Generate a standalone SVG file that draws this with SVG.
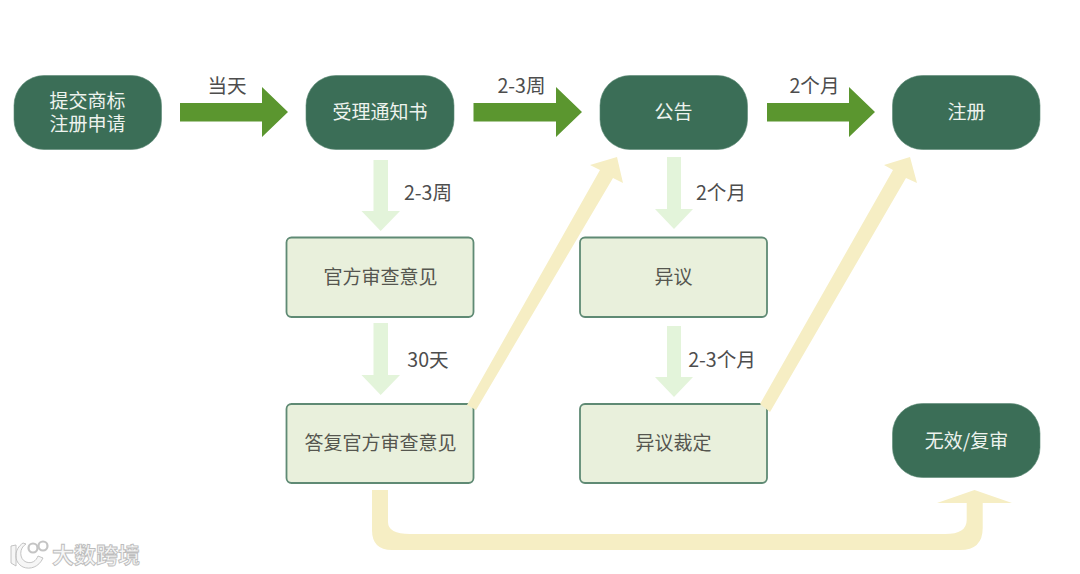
<svg xmlns="http://www.w3.org/2000/svg" width="1080" height="574" viewBox="0 0 1080 574">
<style>
text{font-family:"Noto Sans CJK SC","Liberation Sans",sans-serif;font-size:19px;text-anchor:middle;font-weight:400}
.pill rect{fill:#3b6e57;stroke:#5d8a75;stroke-width:.6}
.pill text{fill:#eef3ee}
.box rect{fill:#e9f0dc;stroke:#5f8a74;stroke-width:1.8}
.box text{fill:#55564f}
text.lbl{fill:#4d4d4d;font-size:19.600px}
.g{fill:#5b962f}.l{fill:#e3f4da}.y{fill:#f6eec4}
text.wm{fill:#f6f6f6;stroke:#bdbdbd;stroke-width:.9;font-size:22px;font-weight:700;text-anchor:start}
</style>
<rect width="1080" height="574" fill="#fff"/>
<g id="n1" class="pill"><rect x="14" y="75.500" width="147.500" height="74" rx="30" ry="30"/><text><tspan x="87.500" y="107.500">提交商标</tspan><tspan x="87.500" y="131">注册申请</tspan></text></g>
<g id="n2" class="pill"><rect x="306" y="75.500" width="148" height="74" rx="30" ry="30"/><text x="380" y="119">受理通知书</text></g>
<g id="n3" class="pill"><rect x="600" y="75.500" width="147.500" height="74" rx="30" ry="30"/><text x="673.500" y="119">公告</text></g>
<g id="n4" class="pill"><rect x="892.500" y="75.500" width="147.500" height="74" rx="30" ry="30"/><text x="966.500" y="119">注册</text></g>
<g id="n5" class="pill"><rect x="892.500" y="403.500" width="147.500" height="74" rx="30" ry="30"/><text x="966.500" y="448">无效/复审</text></g>
<g id="n6" class="box"><rect x="286.500" y="237.500" width="187" height="79.500" rx="5"/><text x="380.500" y="284">官方审查意见</text></g>
<g id="n7" class="box"><rect x="286.500" y="404" width="187" height="79" rx="5"/><text x="380.500" y="450">答复官方审查意见</text></g>
<g id="n8" class="box"><rect x="580" y="237.500" width="187" height="79.500" rx="5"/><text x="673.500" y="284">异议</text></g>
<g id="n9" class="box"><rect x="580" y="404" width="187" height="79" rx="5"/><text x="673.500" y="450">异议裁定</text></g>
<g id="connectors">
<path class="g" d="M180,103H262V87L288,112L262,137V121.500H180Z"/>
<path class="g" d="M473.500,103H556V87L582,112L556,137V121.500H473.500Z"/>
<path class="g" d="M767,103H849V87L875,112L849,137V121.500H767Z"/>
<path class="l" d="M373.500,160H388V211H400L380.700,231L361.500,211H373.500Z"/>
<path class="l" d="M373.500,323H388V375H400L380.700,395L361.500,375H373.500Z"/>
<path class="l" d="M667,157H681V209H693L674,229L655,209H667Z"/>
<path class="l" d="M667,326H681V377H693L674,397L655,377H667Z"/>
<path class="y" d="M467,405L600,170L590,165L617,157L623,183L613,178L476,410Z"/>
<path class="y" d="M760,404L893,170L884,165L910,157L917,183L906,178L770,412Z"/>
<path class="y" d="M372,490H388V522Q388,534 410,534H945Q966.700,534 966.700,520V503H937L974.500,490L1012,503H982.700V528Q982.700,550 960,550H392Q372,550 372,530Z"/>
</g>
<g id="labels">
<text class="lbl" x="227" y="93">当天</text>
<text class="lbl" x="521.500" y="93">2-3周</text>
<text class="lbl" x="814.500" y="93">2个月</text>
<text class="lbl" x="428" y="200">2-3周</text>
<text class="lbl" x="721" y="200">2个月</text>
<text class="lbl" x="428" y="367">30天</text>
<text class="lbl" x="722" y="367">2-3个月</text>
</g>
<g id="watermark">
<path d="M11,546L16,545V566L11,563ZM26,544C19,548 19,559 26,562C32,564 36,561 38,556L43,558C39,567 30,570 23,567C13,562 14,549 23,543Z" fill="#f6f6f6" stroke="#bdbdbd" stroke-width=".9"/>
<circle cx="33" cy="548" r="4.500" fill="#fff" stroke="#c4c4c4" stroke-width="2.200"/>
<circle cx="43" cy="546" r="4.500" fill="#fff" stroke="#c4c4c4" stroke-width="2.200"/>
<text class="wm" x="52" y="563">大数跨境</text>
</g>
</svg>
